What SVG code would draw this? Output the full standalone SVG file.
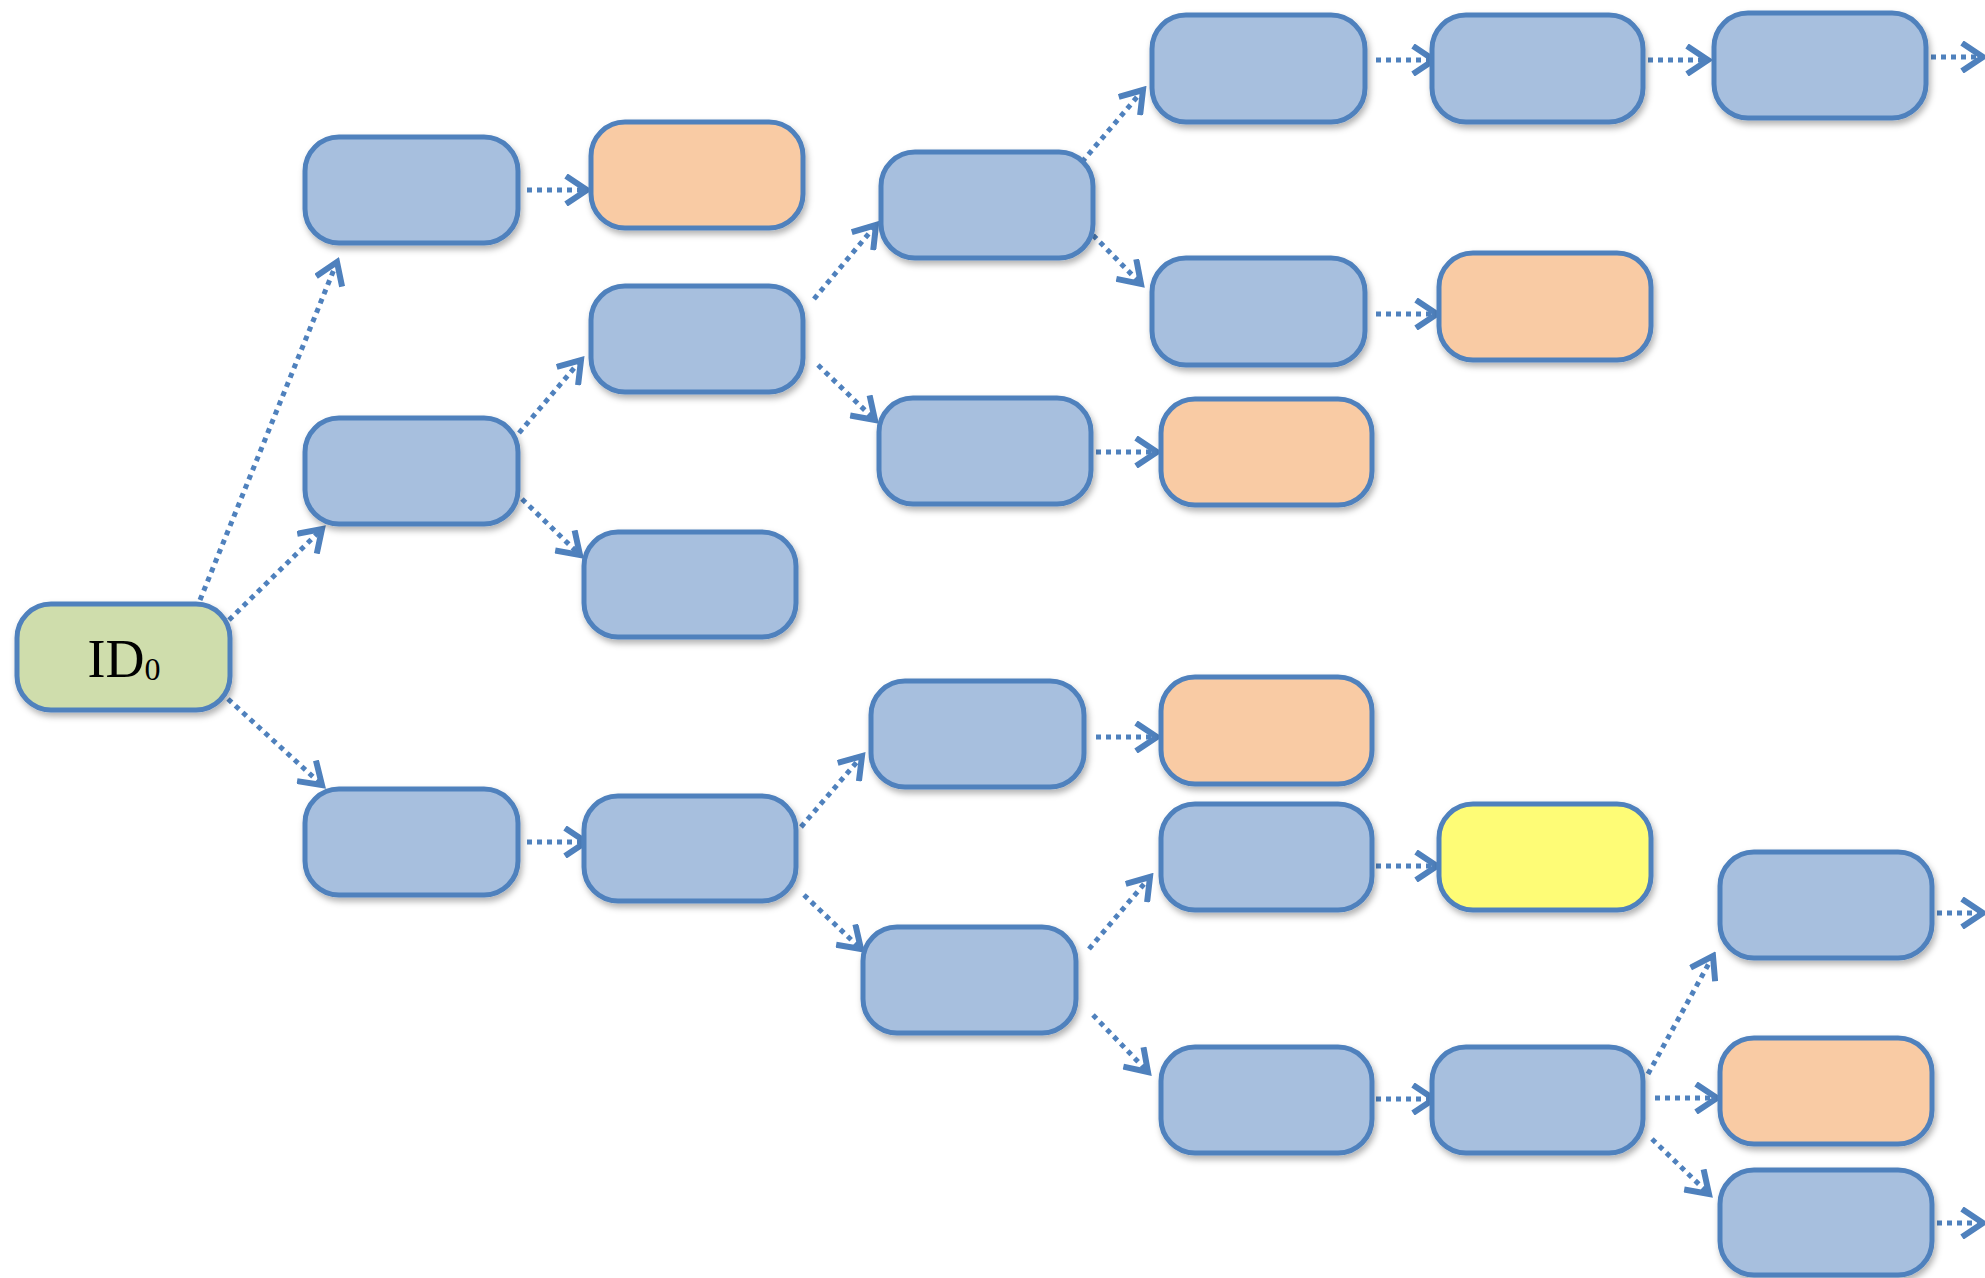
<svg xmlns="http://www.w3.org/2000/svg" width="1985" height="1278" viewBox="0 0 1985 1278">
  <style>
    .node rect { stroke: #4F81BD; stroke-width: 5; filter: url(#shadow); }
    .blue rect { fill: #A7BFDE; }
    .orange rect { fill: #F9CBA4; }
    .green rect { fill: #CFDDAC; }
    .yellow rect { fill: #FEFC76; }
    .edges line { stroke: #4F81BD; stroke-width: 5; stroke-dasharray: 5 5; fill: none; marker-end: url(#arrow); }
    .label { font-family: "Liberation Serif", "Times New Roman", serif; fill: #000; }
  </style>
  <defs>
    <filter id="shadow" x="-10%" y="-10%" width="125%" height="135%">
      <feDropShadow dx="2" dy="4" stdDeviation="3" flood-color="#000" flood-opacity="0.3"/>
    </filter>
    <marker id="arrow" viewBox="0 0 32 32" refX="27" refY="16" markerWidth="32" markerHeight="32" markerUnits="userSpaceOnUse" orient="auto">
      <path d="M6,2 L27,16 L6,30" fill="none" stroke="#4F81BD" stroke-width="6" stroke-linecap="butt" stroke-linejoin="miter"/>
    </marker>
  </defs>
  <rect width="1985" height="1278" fill="#FFFFFF"/>

  <!-- connectors -->
  <g class="edges">
    <line x1="200" y1="600" x2="337" y2="262"/>
    <line x1="229" y1="620" x2="322" y2="529"/>
    <line x1="228" y1="699" x2="322" y2="785"/>
    <line x1="527" y1="190" x2="587" y2="190"/>
    <line x1="519" y1="433" x2="581" y2="360"/>
    <line x1="522" y1="499" x2="580" y2="555"/>
    <line x1="527" y1="842" x2="586" y2="842"/>
    <line x1="814" y1="299" x2="876" y2="225"/>
    <line x1="818" y1="365" x2="875" y2="420"/>
    <line x1="1082" y1="162" x2="1143" y2="90"/>
    <line x1="1086" y1="228" x2="1141" y2="284"/>
    <line x1="1376" y1="60" x2="1434" y2="60"/>
    <line x1="1648" y1="60" x2="1708" y2="60"/>
    <line x1="1931" y1="57" x2="1983" y2="57"/>
    <line x1="1376" y1="314" x2="1437" y2="314"/>
    <line x1="1096" y1="452" x2="1157" y2="452"/>
    <line x1="801" y1="827" x2="862" y2="756"/>
    <line x1="804" y1="895" x2="861" y2="949"/>
    <line x1="1096" y1="737" x2="1157" y2="737"/>
    <line x1="1089" y1="949" x2="1150" y2="877"/>
    <line x1="1093" y1="1015" x2="1148" y2="1072"/>
    <line x1="1376" y1="866" x2="1437" y2="866"/>
    <line x1="1376" y1="1099" x2="1434" y2="1099"/>
    <line x1="1648" y1="1074" x2="1713" y2="956"/>
    <line x1="1655" y1="1098" x2="1717" y2="1098"/>
    <line x1="1652" y1="1139" x2="1709" y2="1194"/>
    <line x1="1937" y1="913" x2="1983" y2="913"/>
    <line x1="1937" y1="1223" x2="1983" y2="1223"/>
  </g>

  <!-- root -->
  <g id="id0" class="node green">
    <rect x="17" y="604" width="213" height="106" rx="34"/>
    <text class="label" x="124" y="677" text-anchor="middle" font-size="54">ID<tspan font-size="32" dy="3">0</tspan></text>
  </g>

  <!-- level 1 -->
  <g id="a1" class="node blue"><rect x="305" y="137" width="213" height="106" rx="34"/></g>
  <g id="a2" class="node blue"><rect x="305" y="418" width="213" height="106" rx="34"/></g>
  <g id="a3" class="node blue"><rect x="305" y="789" width="213" height="106" rx="34"/></g>

  <!-- level 2 -->
  <g id="o1" class="node orange"><rect x="591" y="122" width="212" height="106" rx="34"/></g>
  <g id="b1" class="node blue"><rect x="591" y="286" width="212" height="106" rx="34"/></g>
  <g id="b2" class="node blue"><rect x="584" y="532" width="212" height="105" rx="34"/></g>
  <g id="b3" class="node blue"><rect x="584" y="796" width="212" height="105" rx="34"/></g>

  <!-- level 3 -->
  <g id="c1" class="node blue"><rect x="881" y="152" width="212" height="106" rx="34"/></g>
  <g id="c2" class="node blue"><rect x="879" y="398" width="212" height="106" rx="34"/></g>
  <g id="c3" class="node blue"><rect x="871" y="681" width="213" height="106" rx="34"/></g>
  <g id="c4" class="node blue"><rect x="863" y="927" width="213" height="106" rx="34"/></g>

  <!-- level 4 -->
  <g id="d1" class="node blue"><rect x="1152" y="15" width="213" height="107" rx="34"/></g>
  <g id="d2" class="node blue"><rect x="1152" y="258" width="213" height="107" rx="34"/></g>
  <g id="d3" class="node orange"><rect x="1161" y="399" width="211" height="106" rx="34"/></g>
  <g id="d4" class="node orange"><rect x="1161" y="677" width="211" height="107" rx="34"/></g>
  <g id="d5" class="node blue"><rect x="1161" y="804" width="211" height="106" rx="34"/></g>
  <g id="d6" class="node blue"><rect x="1161" y="1047" width="211" height="106" rx="34"/></g>

  <!-- level 5 -->
  <g id="e1" class="node blue"><rect x="1432" y="15" width="211" height="107" rx="34"/></g>
  <g id="e2" class="node orange"><rect x="1439" y="253" width="212" height="107" rx="34"/></g>
  <g id="e4" class="node yellow"><rect x="1439" y="804" width="212" height="106" rx="34"/></g>
  <g id="e3" class="node blue"><rect x="1432" y="1047" width="211" height="106" rx="34"/></g>

  <!-- level 6 -->
  <g id="f1" class="node blue"><rect x="1714" y="13" width="212" height="105" rx="34"/></g>
  <g id="f2" class="node blue"><rect x="1720" y="852" width="212" height="106" rx="34"/></g>
  <g id="f3" class="node orange"><rect x="1720" y="1038" width="212" height="106" rx="34"/></g>
  <g id="f4" class="node blue"><rect x="1720" y="1170" width="212" height="105" rx="34"/></g>
</svg>
